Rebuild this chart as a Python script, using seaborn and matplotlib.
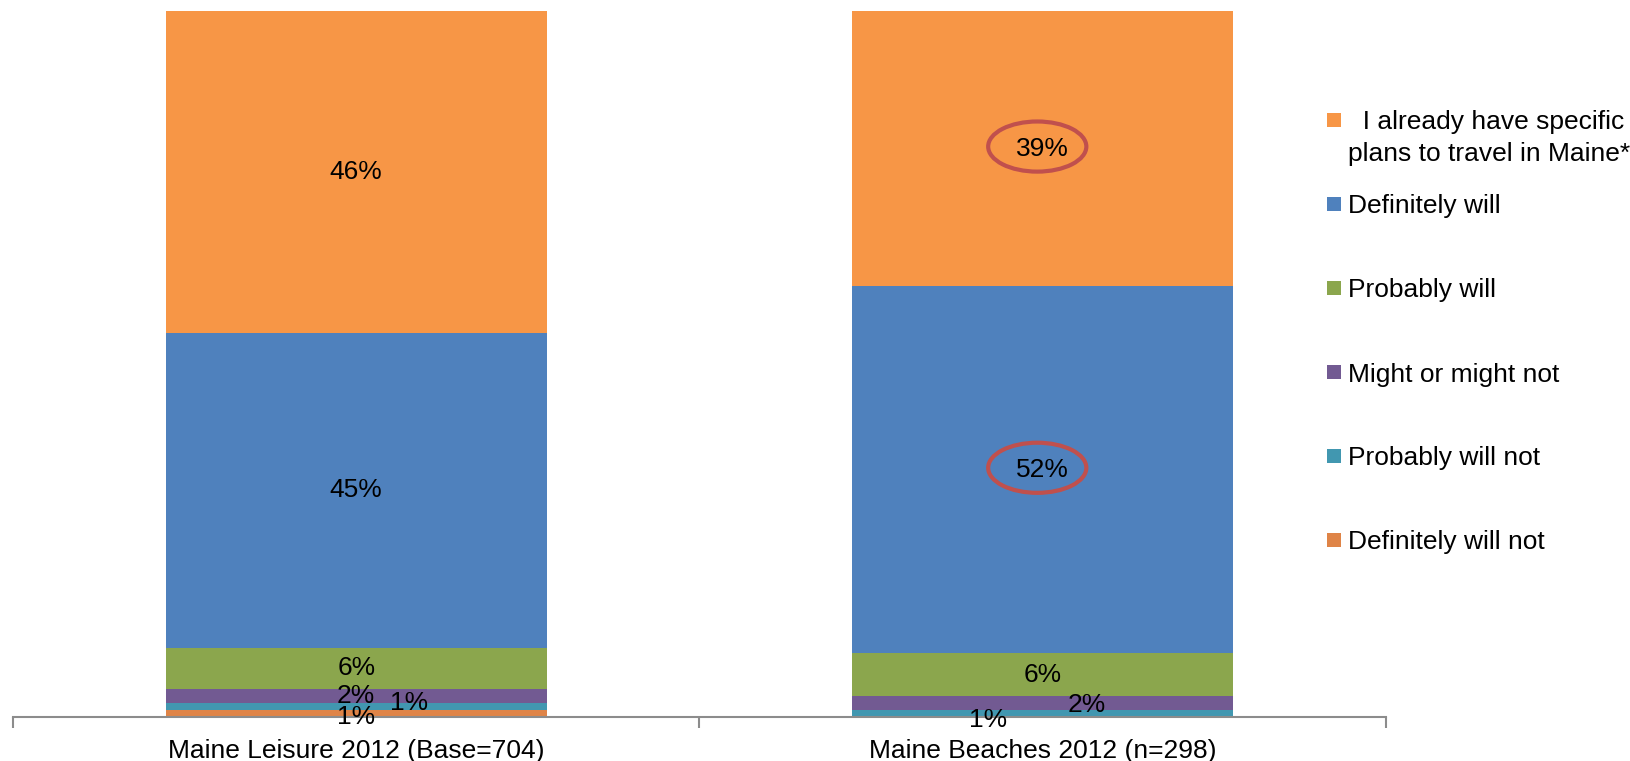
import matplotlib
matplotlib.use("Agg")
import matplotlib.pyplot as plt
from matplotlib.patches import Ellipse, Rectangle
import numpy as np
import pandas as pd
import seaborn as sns

# ---- data ----
groups = ["Maine Leisure 2012 (Base=704)", "Maine Beaches 2012 (n=298)"]
categories = ["Definitely will not", "Probably will not", "Might or might not",
              "Probably will", "Definitely will",
              "I already have specific plans to travel in Maine*"]
leisure = [1.0, 1.0, 2.0, 5.8, 44.6, 45.6]
beaches = [0.0, 1.0, 2.0, 6.0, 52.0, 39.0]
legend_labels = ["Definitely will not", "Probably will not", "Might or might not",
                 "Probably will", "Definitely will",
                 "  I already have specific\nplans to travel in Maine*"]
circled = [(1, 5), (1, 4)]  # (group index, category index)

# ---- style ----
colors = ["#DF8447", "#4197B0", "#725A92", "#8BA64D", "#4F81BD", "#F79646"]
sns.set_theme(style="white")
plt.rcParams["font.family"] = ["Liberation Sans", "DejaVu Sans"]
plt.rcParams["text.color"] = "black"
FS = 19.0

W, H = 1631, 761
fig = plt.figure(figsize=(W / 100, H / 100), dpi=100)
ax_left, ax_right, ax_bottom, ax_top = 13, 1386, 717, 11
ax = fig.add_axes([ax_left / W, (H - ax_bottom) / H,
                   (ax_right - ax_left) / W, (ax_bottom - ax_top) / H])

vals = np.array([leisure, beaches])  # shape (2, 6)
cum = np.cumsum(vals, axis=1)

# draw cumulative totals, largest first, so each visible slice is one category
for k in range(len(categories) - 1, -1, -1):
    df = pd.DataFrame({"group": groups, "value": cum[:, k]})
    sns.barplot(data=df, x="group", y="value", color=colors[k], width=0.555,
                saturation=1, ax=ax, linewidth=0, errorbar=None)

# data labels (offsets are pure placement tweaks)
offsets = {  # (group, cat): (dx, dy)
    (0, 1): (0.077, 0.5),
    (0, 0): (0.0, -0.5),
    (1, 2): (0.064, -0.3),
    (1, 1): (-0.079, -0.9),
}
for g in range(len(groups)):
    for k in range(len(categories)):
        v = vals[g, k]
        if v <= 0:
            continue
        mid = cum[g, k] - v / 2
        dx, dy = offsets.get((g, k), (0.0, 0.0))
        ax.text(g + dx, mid + dy, f"{v:.0f}%", ha="center", va="center",
                fontsize=FS, color="black")

for g, k in circled:
    mid = cum[g, k] - vals[g, k] / 2
    ax.add_patch(Ellipse((g - 0.008, mid + 0.3), 0.143, 7.1, fill=False,
                         edgecolor="#C0504D", linewidth=3.0))

ax.set_xlim(-0.5, 1.5)
ax.set_ylim(0, 100)
ax.set_xlabel("")
ax.set_ylabel("")
ax.set_yticks([])
for s in ["top", "right", "left"]:
    ax.spines[s].set_visible(False)
ax.spines["bottom"].set_color("#8C8C8C")
ax.spines["bottom"].set_linewidth(1.5)
ax.set_xticks([0, 1])
ax.set_xticklabels(groups, fontsize=FS, color="black")
ax.tick_params(axis="x", which="major", length=0, pad=16, labelcolor="black")
ax.set_xticks([-0.5, 0.5, 1.5], minor=True)
ax.tick_params(axis="x", which="minor", bottom=True, length=8, width=1.5,
               color="#8C8C8C", direction="out")

# legend (manual, matching layout)
leg_y = [540, 456, 372, 288, 204, 120]  # pixel centres of squares per category
for k in range(len(categories)):
    y = leg_y[k]
    fig.add_artist(Rectangle((1327 / W, (H - y - 7) / H), 14 / W, 14 / H,
                             transform=fig.transFigure, facecolor=colors[k],
                             edgecolor="none"))
    lab = legend_labels[k]
    if "\n" in lab:
        l1, l2 = lab.split("\n")
        fig.text(1348 / W, (H - y) / H, l1, ha="left", va="center_baseline",
                 fontsize=FS, color="black")
        fig.text(1348 / W, (H - y - 32) / H, l2, ha="left", va="center_baseline",
                 fontsize=FS, color="black")
    else:
        fig.text(1348 / W, (H - y) / H, lab, ha="left", va="center_baseline",
                 fontsize=FS, color="black")

fig.savefig("out.png", dpi=100, facecolor="white")
